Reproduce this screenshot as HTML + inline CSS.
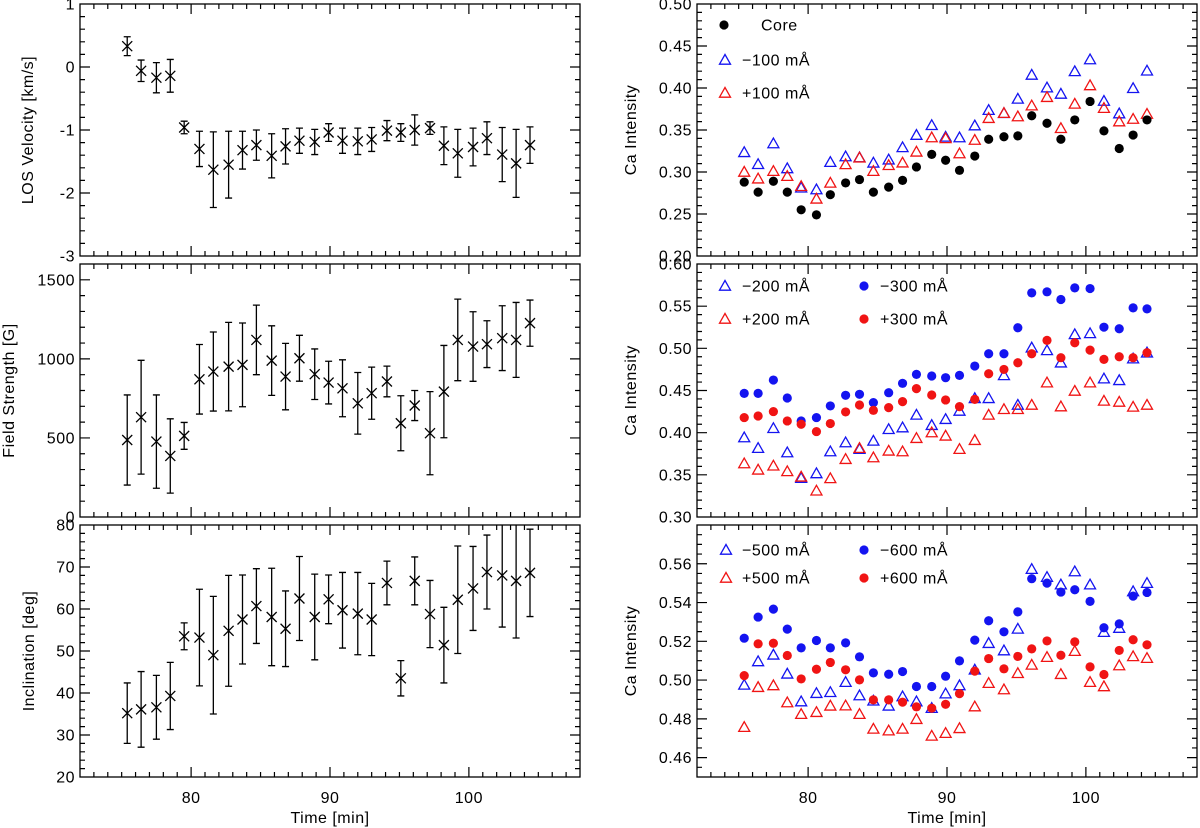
<!DOCTYPE html>
<html><head><meta charset="utf-8">
<style>
html,body{margin:0;padding:0;background:#fff;}
svg{display:block;font-family:"Liberation Sans",sans-serif;}
</style></head>
<body>
<svg id="fig" width="1200" height="828" viewBox="0 0 1200 828" xmlns="http://www.w3.org/2000/svg"></svg>
<script>
// ---- data ----
const times = [75.4,76.4,77.5,78.5,79.5,80.6,81.6,82.7,83.7,84.7,85.8,86.8,87.8,88.9,89.9,90.9,92.0,93.0,94.1,95.1,96.1,97.2,98.2,99.2,100.3,101.3,102.4,103.4,104.4];
const xTicks = [80,90,100];

const losVel = [0.33,-0.06,-0.17,-0.14,-0.96,-1.30,-1.63,-1.55,-1.32,-1.24,-1.41,-1.26,-1.17,-1.19,-1.04,-1.17,-1.18,-1.15,-1.01,-1.04,-1.00,-0.97,-1.25,-1.37,-1.27,-1.13,-1.39,-1.53,-1.24];
const losErr = [0.15,0.17,0.24,0.26,0.10,0.28,0.60,0.53,0.30,0.24,0.35,0.28,0.20,0.20,0.14,0.20,0.21,0.19,0.16,0.14,0.24,0.10,0.30,0.38,0.30,0.26,0.43,0.54,0.29];
const losTicks = [1,0,-1,-2,-3];

const field = [487,631,477,386,513,871,920,951,962,1120,989,888,1004,903,850,814,719,783,857,593,705,530,793,1120,1078,1093,1131,1120,1226];
const fieldErr = [285,360,295,235,85,220,250,280,265,220,220,210,145,160,135,180,195,165,97,174,95,263,292,258,220,148,205,237,146];
const fieldTicks = [0,500,1000,1500];

const incl = [35.2,36.1,36.6,39.3,53.5,53.2,49.0,54.8,57.5,60.7,58.1,55.3,62.5,58.1,62.3,59.7,58.9,57.5,66.2,43.5,66.7,58.8,51.4,62.2,64.9,68.8,68.0,66.7,68.6];
const inclErr = [7.2,9.0,7.6,8.0,3.2,11.5,14.0,13.2,10.6,8.9,11.6,9.0,10.0,10.2,5.8,9.0,9.8,8.6,5.2,4.2,5.7,8.0,9.0,12.8,10.0,8.8,12.3,13.6,10.4];
const inclTicks = [20,30,40,50,60,70,80];

const core = [0.288,0.276,0.289,0.276,0.255,0.249,0.273,0.287,0.291,0.276,0.282,0.290,0.306,0.321,0.314,0.302,0.319,0.339,0.342,0.343,0.367,0.358,0.339,0.362,0.384,0.349,0.328,0.344,0.362];
const m100 = [0.3234,0.3092,0.3339,0.3042,0.2812,0.2791,0.3117,0.3184,0.3172,0.3109,0.3146,0.3293,0.3439,0.3556,0.3418,0.341,0.3552,0.3736,0.3699,0.387,0.4155,0.4004,0.3929,0.4197,0.4339,0.3845,0.3695,0.3996,0.4205];
const p100 = [0.300,0.292,0.301,0.295,0.283,0.268,0.287,0.309,0.317,0.301,0.308,0.311,0.324,0.341,0.340,0.322,0.338,0.364,0.370,0.366,0.379,0.389,0.352,0.381,0.403,0.376,0.360,0.363,0.369];
const topRTicks = [0.20,0.25,0.30,0.35,0.40,0.45,0.50];

const m300 = [0.4466,0.4466,0.4624,0.4411,0.4139,0.4179,0.4317,0.4443,0.4455,0.4356,0.4474,0.4585,0.4691,0.4672,0.4652,0.4679,0.479,0.4936,0.4936,0.5244,0.5658,0.567,0.5579,0.5717,0.5709,0.5251,0.5232,0.548,0.5468];
const p300 = [0.4179,0.4198,0.425,0.4139,0.41,0.4013,0.4108,0.4246,0.4328,0.4265,0.4297,0.4368,0.4522,0.4447,0.4388,0.4309,0.4395,0.4699,0.475,0.4829,0.4936,0.5094,0.4889,0.5066,0.4979,0.4869,0.49,0.4889,0.4948];
const m200 = [0.3942,0.3816,0.4052,0.3764,0.3461,0.3516,0.3776,0.3883,0.3804,0.3902,0.404,0.406,0.421,0.4088,0.4159,0.4257,0.4407,0.4407,0.4679,0.4328,0.5007,0.4975,0.4829,0.5165,0.5177,0.464,0.462,0.4877,0.4948];
const p200 = [0.3634,0.3559,0.3607,0.354,0.3476,0.3311,0.3457,0.3685,0.3816,0.3705,0.3784,0.3776,0.3934,0.4001,0.3962,0.3804,0.391,0.421,0.4277,0.4277,0.4328,0.4593,0.4309,0.4494,0.4593,0.4376,0.4364,0.4305,0.4328];
const midRTicks = [0.30,0.35,0.40,0.45,0.50,0.55,0.60];

const m600 = [0.5216,0.5325,0.5366,0.5263,0.5166,0.5204,0.5166,0.5192,0.512,0.5037,0.503,0.5044,0.4967,0.4967,0.502,0.5099,0.5206,0.5306,0.5249,0.5352,0.5523,0.55,0.5454,0.5466,0.5406,0.527,0.529,0.5433,0.5452];
const p600 = [0.5023,0.5187,0.519,0.5127,0.5006,0.5056,0.5091,0.5053,0.5001,0.4898,0.4898,0.4886,0.4862,0.4855,0.4875,0.493,0.5046,0.5111,0.5058,0.5122,0.5161,0.5202,0.5128,0.5197,0.5068,0.5029,0.5153,0.5208,0.5182];
const m500 = [0.4975,0.5096,0.513,0.5032,0.4889,0.4932,0.4937,0.4989,0.492,0.4893,0.4867,0.4915,0.4889,0.4855,0.493,0.4972,0.5053,0.519,0.5152,0.5264,0.5572,0.5531,0.5492,0.556,0.5492,0.5247,0.5268,0.5457,0.55];
const p500 = [0.4757,0.4963,0.4972,0.4884,0.4824,0.4834,0.4867,0.4868,0.4824,0.4748,0.4739,0.4748,0.4798,0.4712,0.4726,0.4751,0.4863,0.4984,0.4951,0.5035,0.5078,0.5118,0.503,0.5149,0.4989,0.4967,0.5075,0.5122,0.5113];
const botRTicks = [0.46,0.48,0.50,0.52,0.54,0.56];

// ---- drawing ----
const NS = "http://www.w3.org/2000/svg";
const svg = document.getElementById('fig');
const BLUE = "#1414f0", RED = "#f01414";
const FS = 16;
function el(tag, attrs, parent){
  const e = document.createElementNS(NS, tag);
  for (const k in attrs) e.setAttribute(k, attrs[k]);
  (parent||svg).appendChild(e);
  return e;
}
function makePanel(name, x0,x1,y0,y1,ymin,ymax,yt,yMinor,fmt,title,titleX,showX){
  const g = el('g',{});
  
  
  const sx = t => x0 + (t-72)/(108-72)*(x1-x0);
  const sy = v => y1 - (v-ymin)/(ymax-ymin)*(y1-y0);
  const frame = el('rect',{x:x0,y:y0,width:x1-x0,height:y1-y0,fill:'none',stroke:'#000','stroke-width':1.3},g);
  
  
  let d = '';
  for (let t=73;t<=107;t++){
    const major = t%10===0;
    const L = major?10:5;
    const x = sx(t);
    d += `M${x},${y1}v${-L}M${x},${y0}v${L}`;
  }
  const nMin = Math.round((ymax-ymin)/yMinor);
  for (let i=1;i<nMin;i++){
    const v = ymin + i*yMinor;
    const major = yt.some(m=>Math.abs(m-v)<yMinor*0.01);
    const L = major?10:5;
    const y = sy(v);
    d += `M${x0},${y}h${L}M${x1},${y}h${-L}`;
  }
  const ticks = el('path',{d:d,stroke:'#000','stroke-width':1.2,fill:'none'},g);
  
  
  yt.forEach(v=>{
    const tx = el('text',{x:x0-5,y:sy(v)+5.5,'text-anchor':'end','font-size':FS,'letter-spacing':0.5},g);
    tx.textContent = fmt(v);
    
    
  });
  const ttl = el('text',{x:titleX,y:(y0+y1)/2,'text-anchor':'middle','font-size':FS,'letter-spacing':0.5,transform:`rotate(-90 ${titleX} ${(y0+y1)/2})`},g);
  ttl.textContent = title;
  
  
  if (showX){
    xTicks.forEach(t=>{
      const tx = el('text',{x:sx(t),y:803,'text-anchor':'middle','font-size':FS,'letter-spacing':0.5},g);
      tx.textContent = String(t);
      
      
    });
    const xt = el('text',{x:(x0+x1)/2,y:823,'text-anchor':'middle','font-size':FS,'letter-spacing':0.5},g);
    xt.textContent = 'Time [min]';
    
    
  }
  const clipId = name+'-clip';
  const cp = el('clipPath',{id:clipId},g);
  el('rect',{x:x0,y:y0,width:x1-x0,height:y1-y0},cp);
  const plot = el('g',{'clip-path':`url(#${clipId})`},g);
  return {g,plot,sx,sy};
}
function errSeries(P, vals, errs, name){
  vals.forEach((v,i)=>{
    const x = P.sx(times[i]), y = P.sy(v);
    const yh = P.sy(v+errs[i]), yl = P.sy(v-errs[i]);
    const d = `M${x},${yh}V${yl}M${x-3.5},${yh}h7M${x-3.5},${yl}h7M${x-5},${y-5}l10,10M${x+5},${y-5}l-10,10`;
    const p = el('path',{d:d,stroke:'#000','stroke-width':1.3,fill:'none'},P.plot);
    
    
  });
}
function dots(P, vals, color, name){
  vals.forEach((v,i)=>{
    const c = el('circle',{cx:P.sx(times[i]),cy:P.sy(v),r:4.6,fill:color},P.plot);
    
    
  });
}
function tri(parent,x,y,color){
  return el('path',{d:`M${x},${y-5.5}L${x+5.5},${y+4.2}L${x-5.5},${y+4.2}Z`,fill:'none',stroke:color,'stroke-width':1.3},parent);
}
function tris(P, vals, color, name){
  vals.forEach((v,i)=>{
    const t = tri(P.plot,P.sx(times[i]),P.sy(v),color);
    
    
  });
}
function legend(P, items){
  items.forEach(it=>{
    const g = el('g',{},P.g);
    
    
    if (it.m==='c') el('circle',{cx:it.x,cy:it.y,r:4.6,fill:it.c},g);
    else tri(g,it.x,it.y,it.c);
    const t = el('text',{x:it.tx,y:it.y+5.5,'font-size':FS,'letter-spacing':0.5},g);
    t.textContent = it.label;
  });
}
const f0 = v=>String(v), f2 = v=>v.toFixed(2);
const pA = makePanel('los-velocity-panel',80,580,4,256,-3,1,losTicks,0.2,f0,'LOS Velocity [km/s]',33,false);
errSeries(pA, losVel, losErr, 'los-velocity');
const pB = makePanel('field-strength-panel',80,580,264,517,0,1600,fieldTicks,100,f0,'Field Strength [G]',14,false);
errSeries(pB, field, fieldErr, 'field-strength');
const pC = makePanel('inclination-panel',80,580,525,777,20,80,inclTicks,2,f0,'Inclination [deg]',34,true);
errSeries(pC, incl, inclErr, 'inclination');

const pD = makePanel('ca-core-panel',697,1197,4,256,0.2,0.5,topRTicks,0.01,f2,'Ca Intensity',636,false);
tris(pD, m100, BLUE, 'minus-100');
tris(pD, p100, RED, 'plus-100');
dots(pD, core, '#000', 'core');
legend(pD,[
 {key:'core',m:'c',c:'#000',x:724,y:25,tx:761,label:'Core'},
 {key:'minus-100',m:'t',c:BLUE,x:725,y:60,tx:742,label:'\u2212100 mÅ'},
 {key:'plus-100',m:'t',c:RED,x:725,y:93,tx:742,label:'+100 mÅ'}]);

const pE = makePanel('ca-200-300-panel',697,1197,264,517,0.3,0.6,midRTicks,0.01,f2,'Ca Intensity',636,false);
tris(pE, m200, BLUE, 'minus-200');
tris(pE, p200, RED, 'plus-200');
dots(pE, m300, BLUE, 'minus-300');
dots(pE, p300, RED, 'plus-300');
legend(pE,[
 {key:'minus-200',m:'t',c:BLUE,x:725,y:286,tx:742,label:'\u2212200 mÅ'},
 {key:'minus-300',m:'c',c:BLUE,x:864,y:286,tx:880,label:'\u2212300 mÅ'},
 {key:'plus-200',m:'t',c:RED,x:725,y:319,tx:742,label:'+200 mÅ'},
 {key:'plus-300',m:'c',c:RED,x:864,y:319,tx:880,label:'+300 mÅ'}]);

const pF = makePanel('ca-500-600-panel',697,1197,525,777,0.45,0.58,botRTicks,0.005,f2,'Ca Intensity',636,true);
tris(pF, m500, BLUE, 'minus-500');
tris(pF, p500, RED, 'plus-500');
dots(pF, m600, BLUE, 'minus-600');
dots(pF, p600, RED, 'plus-600');
legend(pF,[
 {key:'minus-500',m:'t',c:BLUE,x:726,y:550,tx:742,label:'\u2212500 mÅ'},
 {key:'minus-600',m:'c',c:BLUE,x:864,y:550,tx:880,label:'\u2212600 mÅ'},
 {key:'plus-500',m:'t',c:RED,x:726,y:578,tx:742,label:'+500 mÅ'},
 {key:'plus-600',m:'c',c:RED,x:864,y:578,tx:880,label:'+600 mÅ'}]);
</script>
</body></html>
